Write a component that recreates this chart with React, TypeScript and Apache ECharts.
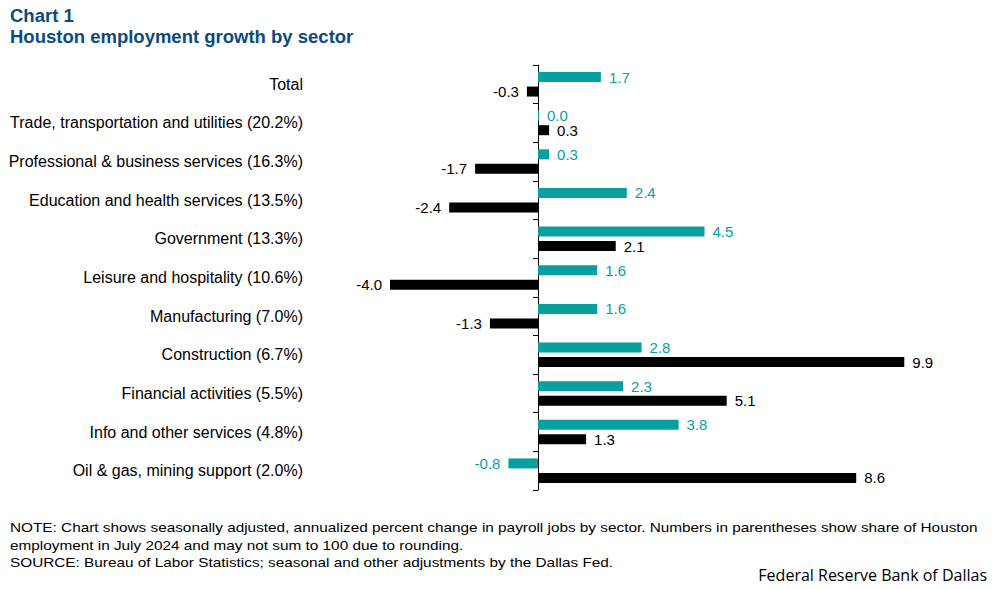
import React, { useEffect, useRef } from "react";
import * as echarts from "echarts";

const categories = [
  "Total",
  "Trade, transportation and utilities (20.2%)",
  "Professional & business services (16.3%)",
  "Education and health services (13.5%)",
  "Government (13.3%)",
  "Leisure and hospitality (10.6%)",
  "Manufacturing (7.0%)",
  "Construction (6.7%)",
  "Financial activities (5.5%)",
  "Info and other services (4.8%)",
  "Oil & gas, mining support (2.0%)",
];
const recentGrowth = [1.7, 0.0, 0.3, 2.4, 4.5, 1.6, 1.6, 2.8, 2.3, 3.8, -0.8];
const priorGrowth = [-0.3, 0.3, -1.7, -2.4, 2.1, -4.0, -1.3, 9.9, 5.1, 1.3, 8.6];

const TEAL = "#06A19E";
const BLACK = "#000000";
const FONT = "Liberation Sans, Arial, sans-serif";

const items = (vals: number[], color: string) =>
  vals.map((v) => ({
    value: v,
    label: {
      show: true,
      position: v < 0 ? "left" : "right",
      distance: 8,
      color,
      fontSize: 15,
      fontFamily: FONT,
      formatter: (p: any) => Number(p.value).toFixed(1),
    },
  }));

export default function App() {
  const ref = useRef<HTMLDivElement>(null);
  useEffect(() => {
    if (!ref.current) return;
    const chart = echarts.init(ref.current, null, { renderer: "svg" });
    chart.setOption({
      animation: false,
      backgroundColor: "#ffffff",
      grid: {
        left: 353,
        right: 52,
        top: 65,
        bottom: 99,
        containLabel: false,
        outerBoundsMode: "none",
      },
      xAxis: {
        type: "value",
        min: -5,
        max: 11,
        show: false,
      },
      yAxis: {
        type: "category",
        inverse: true,
        data: categories,
        axisLine: { show: true, onZero: true, lineStyle: { color: "#000", width: 1 } },
        axisTick: { show: true, length: 5, lineStyle: { color: "#000" } },
        axisLabel: {
          margin: 50,
          color: "#000",
          fontSize: 16,
          fontFamily: FONT,
        },
        splitLine: { show: false },
      },
      series: [
        {
          name: "Recent",
          type: "bar",
          data: items(recentGrowth, TEAL),
          itemStyle: { color: TEAL },
          barWidth: 10,
          barGap: "45%",
          barMinHeight: 1,
        },
        {
          name: "Prior",
          type: "bar",
          data: items(priorGrowth, BLACK),
          itemStyle: { color: BLACK },
          barWidth: 10,
        },
      ],
      graphic: [
        {
          type: "text",
          left: 10,
          top: 6,
          style: { text: "Chart 1", fill: "#0B4A80", font: "bold 18.5px Liberation Sans, Arial, sans-serif" },
        },
        {
          type: "text",
          left: 10,
          top: 27,
          style: {
            text: "Houston employment growth by sector",
            fill: "#0B4A80",
            font: "bold 18.5px Liberation Sans, Arial, sans-serif",
          },
        },
        {
          type: "text",
          x: 10,
          y: 519,
          scaleX: 1.18,
          style: {
            text:
              "NOTE: Chart shows seasonally adjusted, annualized percent change in payroll jobs by sector. Numbers in parentheses show share of Houston\nemployment in July 2024 and may not sum to 100 due to rounding.\nSOURCE: Bureau of Labor Statistics; seasonal and other adjustments by the Dallas Fed.",
            fill: "#000",
            font: "13px Liberation Sans, Arial, sans-serif",
            lineHeight: 17.5,
          },
        },
        {
          type: "text",
          right: 10,
          top: 567,
          style: {
            text: "Federal Reserve Bank of Dallas",
            fill: "#000",
            font: "16px Open Sans, Noto Sans, sans-serif",
          },
        },
      ],
    });
    return () => chart.dispose();
  }, []);
  return <div ref={ref} style={{ width: 997, height: 589, position: "absolute", left: 0, top: 0 }} />;
}
